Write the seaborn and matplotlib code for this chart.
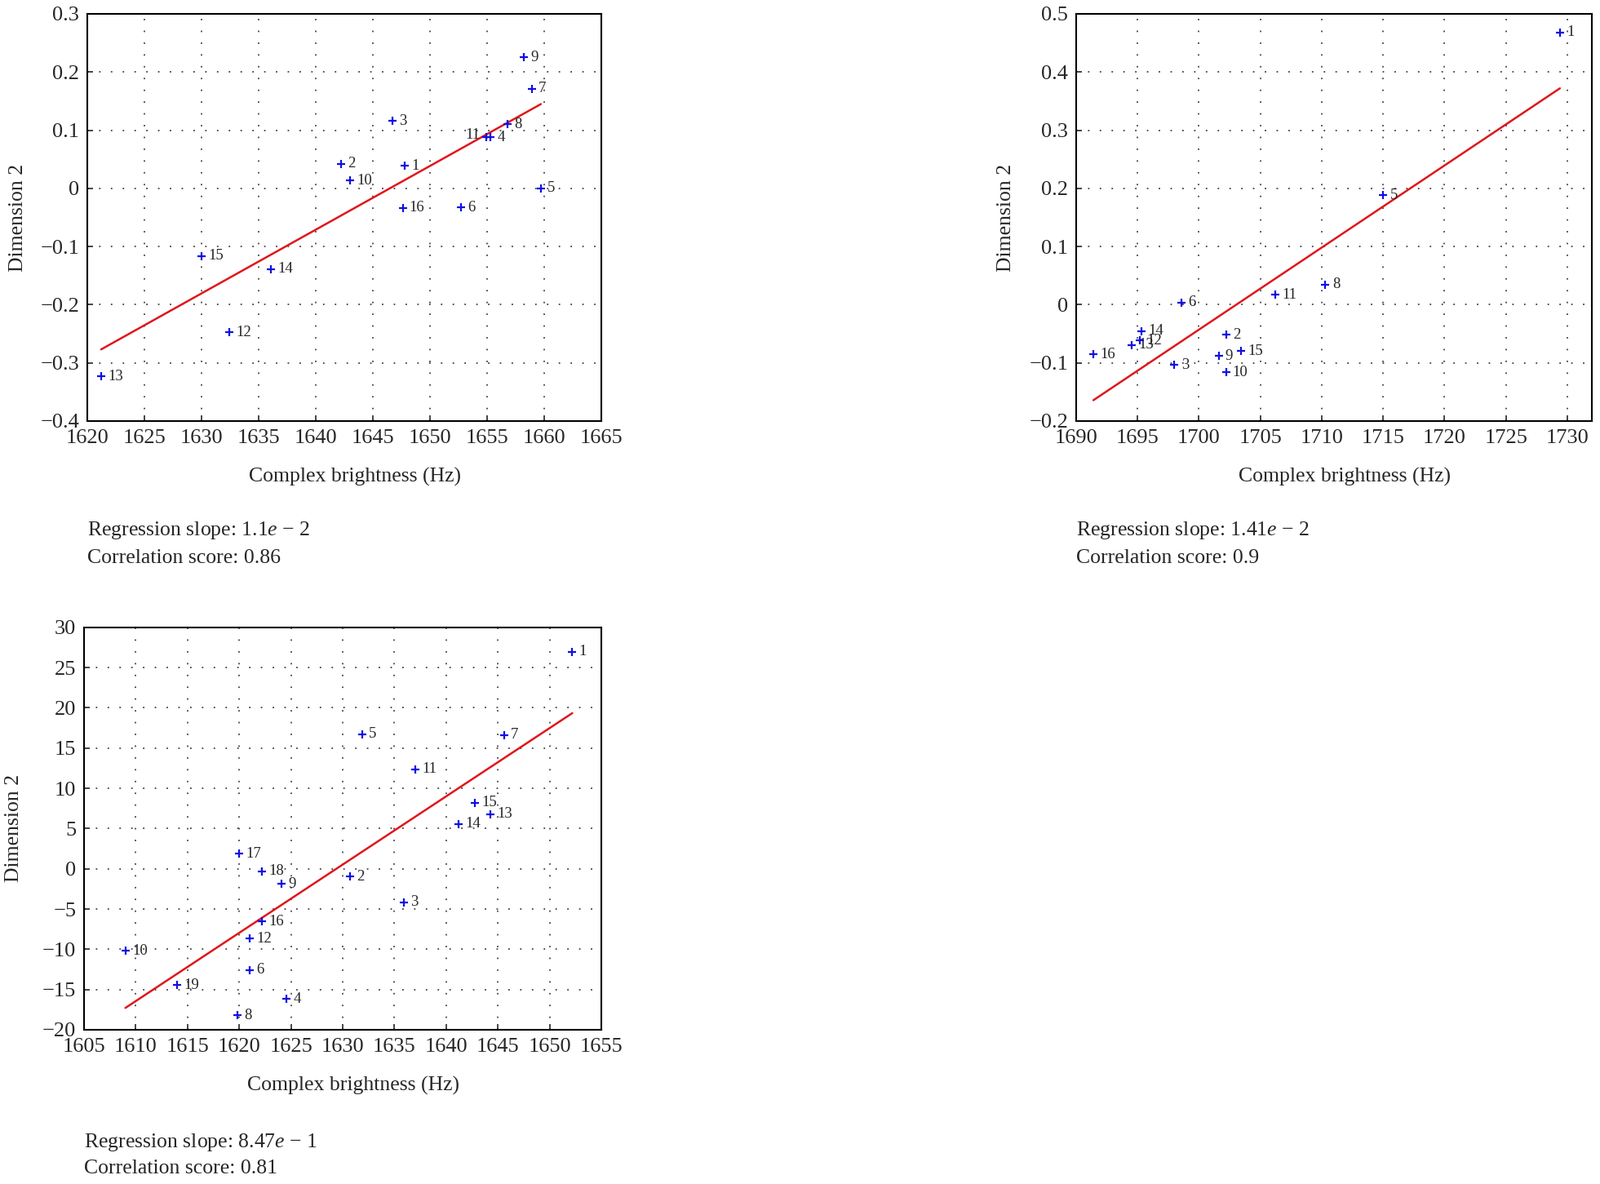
import numpy as np
import pandas as pd
import matplotlib
matplotlib.use('Agg')
import matplotlib.pyplot as plt
from matplotlib.ticker import MultipleLocator, FuncFormatter
import seaborn as sns

sns.set_style('white')
plt.rcParams['font.family'] = ['Liberation Serif', 'DejaVu Serif']
plt.rcParams['mathtext.fontset'] = 'custom'
plt.rcParams['mathtext.it'] = 'Liberation Serif:italic'
plt.rcParams['mathtext.rm'] = 'Liberation Serif'

# panel 1 data
ids_a = [1, 2, 3, 4, 5, 6, 7, 8, 9, 10, 11, 12, 13, 14, 15, 16]
x_a = [1647.8, 1642.2, 1646.7, 1655.3, 1659.7, 1652.7, 1658.9, 1656.8,
       1658.2, 1643.0, 1654.9, 1632.4, 1621.2, 1636.1, 1630.0, 1647.6]
y_a = [0.0385, 0.042, 0.116, 0.0875, 0.0, -0.0325, 0.171, 0.11,
       0.225, 0.0135, 0.0875, -0.2475, -0.323, -0.139, -0.1165, -0.0335]
left_a = [11]  # labels written on the left of the point

# panel 2 data
ids_b = [1, 2, 3, 5, 6, 8, 9, 10, 11, 12, 13, 14, 15, 16]
x_b = [1729.4, 1702.2, 1698.0, 1715.0, 1698.6, 1710.3, 1701.6, 1702.2,
       1706.2, 1695.2, 1694.5, 1695.3, 1703.4, 1691.4]
y_b = [0.468, -0.0517, -0.1036, 0.188, 0.0035, 0.0345, -0.088, -0.1165,
       0.017, -0.0613, -0.069, -0.0453, -0.0795, -0.0855]

# panel 3 data
ids_c = [1, 2, 3, 4, 5, 6, 7, 8, 9, 10, 11, 12, 13, 14, 15, 16, 17, 18, 19]
x_c = [1652.2, 1630.7, 1635.9, 1624.6, 1631.9, 1621.0, 1645.6, 1619.8, 1624.1, 1609.0,
       1637.0, 1621.0, 1644.3, 1641.2, 1642.8, 1622.2, 1620.0, 1622.2, 1614.0]
y_c = [26.97, -0.95, -4.16, -16.2, 16.74, -12.58, 16.65, -18.19, -1.9, -10.18,
       12.35, -8.69, 6.79, 5.57, 8.19, -6.56, 1.86, -0.32, -14.43]

notes_a = ['Regression slope: 1.1$\\mathit{e}$ \u2212 2', 'Correlation score: 0.86']
notes_b = ['Regression slope: 1.41$\\mathit{e}$ \u2212 2', 'Correlation score: 0.9']
notes_c = ['Regression slope: 8.47$\\mathit{e}$ \u2212 1', 'Correlation score: 0.81']

fig = plt.figure(figsize=(19.61, 14.51), dpi=100)


def fmt(v, pos):
    return ('%g' % round(v, 6)).replace('-', '\u2212')


def panel(rect, ids, xs, ys, xlim, ylim, xstep, ystep, notes, note_y, left=()):
    ax = fig.add_axes(rect)
    df = pd.DataFrame({'x': xs, 'y': ys, 'id': ids})
    sns.regplot(data=df, x='x', y='y', ax=ax, ci=None, scatter=False,
                truncate=True, line_kws=dict(color='#e0161b', lw=1.8))
    sns.scatterplot(data=df, x='x', y='y', ax=ax, marker='+', color='#1010e0',
                    s=45, linewidth=1.6, zorder=4)
    for _, r in df.iterrows():
        if int(r['id']) in left:
            ax.annotate(str(int(r['id'])), (r['x'], r['y']), xytext=(-5, 2),
                        textcoords='offset points', va='center', ha='right',
                        fontsize=13.5)
        else:
            ax.annotate(str(int(r['id'])), (r['x'], r['y']), xytext=(6, 0),
                        textcoords='offset points', va='center', ha='left',
                        fontsize=13.5)
    ax.set_xlim(*xlim)
    ax.set_ylim(*ylim)
    ax.xaxis.set_major_locator(MultipleLocator(xstep))
    ax.yaxis.set_major_locator(MultipleLocator(ystep))
    ax.xaxis.set_major_formatter(FuncFormatter(fmt))
    ax.yaxis.set_major_formatter(FuncFormatter(fmt))
    ax.grid(True, color='#444444', linestyle=(0, (1, 7)), linewidth=1.3)
    ax.tick_params(direction='in', length=5, width=1.2, labelsize=19,
                   bottom=True, left=True, pad=7)
    for s in ax.spines.values():
        s.set_color('black')
        s.set_linewidth(1.5)
    ax.set_xlabel('Complex brightness (Hz)', fontsize=18.5)
    ax.set_ylabel('Dimension 2', fontsize=18.5)
    ax.xaxis.set_label_coords(0.52, -0.115)
    ax.yaxis.set_label_coords(-0.118, 0.5)
    fig.text(rect[0], note_y[0], notes[0], fontsize=18.5, va='center', ha='left')
    fig.text(rect[0], note_y[1], notes[1], fontsize=18.5, va='center', ha='left')
    return ax


panel([0.0546, 0.6444, 0.3213, 0.3439], ids_a, x_a, y_a, (1620, 1665), (-0.4, 0.3),
      5, 0.1, notes_a, (0.552, 0.5286), left_a)
panel([0.6726, 0.6444, 0.3223, 0.3439], ids_b, x_b, y_b, (1690, 1732), (-0.2, 0.5),
      5, 0.1, notes_b, (0.552, 0.5286))
panel([0.0525, 0.1303, 0.3233, 0.3398], ids_c, x_c, y_c, (1605, 1655), (-20, 30),
      5, 5, notes_c, (0.0351, 0.0131))

fig.savefig('out.png', dpi=100)
